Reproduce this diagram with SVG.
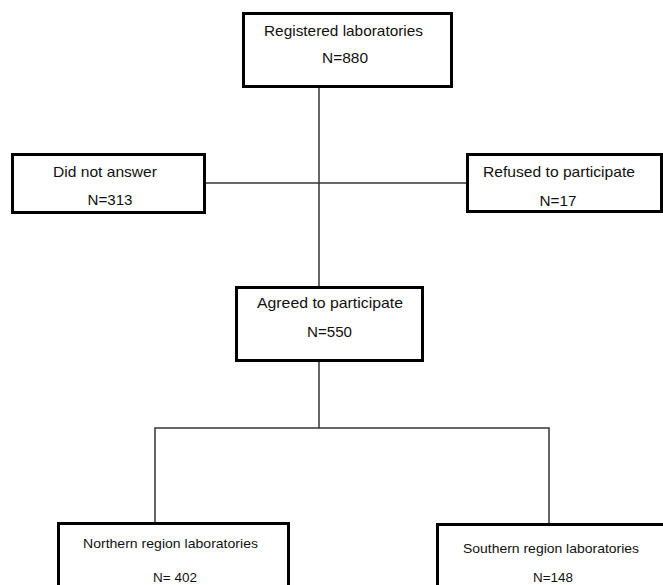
<svg xmlns="http://www.w3.org/2000/svg" width="663" height="585" viewBox="0 0 663 585">
<style>
.box{fill:#fff;stroke:#000;stroke-width:3}
.ln{fill:none;stroke:#333;stroke-width:1.5}
text{font-family:"Liberation Sans",Arial,sans-serif;font-size:15px;fill:#111;text-anchor:middle}
.sm{font-size:13px}
</style>
<rect width="663" height="585" fill="#fff"/>
<g id="connectors">
<path class="ln" d="M319,87 V287"/>
<path class="ln" d="M205,183 H467"/>
<path class="ln" d="M319,361 V428"/>
<path class="ln" d="M155,523 V428 H549 V524"/>
</g>
<g id="registered">
<rect class="box" x="243.5" y="13.5" width="208" height="73"/>
<text x="343.5" y="36" textLength="159" lengthAdjust="spacingAndGlyphs">Registered laboratories</text>
<text x="345" y="63" textLength="46" lengthAdjust="spacingAndGlyphs">N=880</text>
</g>
<g id="noanswer">
<rect class="box" x="12.5" y="154.5" width="192" height="58"/>
<text x="105" y="177" textLength="104" lengthAdjust="spacingAndGlyphs">Did not answer</text>
<text x="110" y="205" textLength="45" lengthAdjust="spacingAndGlyphs">N=313</text>
</g>
<g id="refused">
<rect class="box" x="467.5" y="154.5" width="194" height="57"/>
<text x="559" y="177" textLength="152" lengthAdjust="spacingAndGlyphs">Refused to participate</text>
<text x="558" y="206" textLength="37" lengthAdjust="spacingAndGlyphs">N=17</text>
</g>
<g id="agreed">
<rect class="box" x="236.5" y="287.5" width="186" height="73"/>
<text x="330" y="308" textLength="146" lengthAdjust="spacingAndGlyphs">Agreed to participate</text>
<text x="329.5" y="337" textLength="45" lengthAdjust="spacingAndGlyphs">N=550</text>
</g>
<g id="northern">
<rect class="box" x="58.5" y="523.5" width="230" height="70"/>
<text class="sm" x="170.5" y="548" textLength="175" lengthAdjust="spacingAndGlyphs">Northern region laboratories</text>
<text class="sm" x="175" y="582" textLength="44" lengthAdjust="spacingAndGlyphs">N= 402</text>
</g>
<g id="southern">
<rect class="box" x="437.5" y="524.5" width="240" height="70"/>
<text class="sm" x="551" y="553" textLength="176" lengthAdjust="spacingAndGlyphs">Southern region laboratories</text>
<text class="sm" x="553" y="582" textLength="40" lengthAdjust="spacingAndGlyphs">N=148</text>
</g>
</svg>
